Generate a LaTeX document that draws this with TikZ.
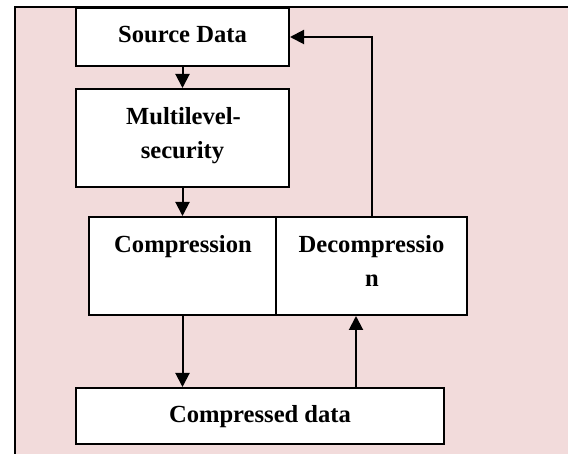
\documentclass[tikz,border=0pt]{standalone}
\usepackage{fontspec}
\setmainfont{Liberation Serif}
\usetikzlibrary{arrows.meta}
\definecolor{panelpink}{HTML}{F2DBDB}
\tikzset{
  block/.style={draw=black, fill=white, line width=2pt, inner sep=0pt},
  lbl/.style={anchor=base, inner sep=0pt, font=\fontsize{24.6}{34}\selectfont\bfseries},
  flow/.style={line width=2pt, -{Triangle[width=14pt,length=14pt]}}
}
\begin{document}
\begin{tikzpicture}[x=1pt,y=-1pt]
  \useasboundingbox (0,0) rectangle (568,454);
  % tinted panel with its top and left rule
  \fill[panelpink] (14,7) rectangle (568,454);
  \draw[line width=2pt] (568,7) -- (14.5,7) -- (14.5,454);

  % blocks
  \node[block, minimum width=213pt, minimum height=58pt] (src) at (182.5,37) {};
  \node[block, minimum width=213pt, minimum height=98pt] (multi) at (182.5,138) {};
  \node[block, minimum width=187pt, minimum height=98pt] (comp) at (182.5,266) {};
  \node[block, minimum width=191pt, minimum height=98pt] (decomp) at (371.5,266) {};
  \node[block, minimum width=368pt, minimum height=56pt] (cdata) at (260,416) {};

  % labels
  \node[lbl] (tsrc) at (182.5,43) {Source Data};
  \node[lbl] (tmulti1) at (183.5,125) {Multilevel-};
  \node[lbl] (tmulti2) at (182.5,159) {security};
  \node[lbl] (tcomp) at (183,253) {Compression};
  \node[lbl] (tdec1) at (371.5,253) {Decompressio};
  \node[lbl] (tdec2) at (372,287) {n};
  \node[lbl] (tcdata) at (260,423) {Compressed data};

  % connectors
  \coordinate (upfoot) at (356,388);
  \draw[flow] (src.south) -- (multi.north);
  \draw[flow] (multi.south) -- (comp.north);
  \draw[flow] (comp.south) -- (comp.south |- cdata.north);
  \draw[flow] (upfoot) -- (upfoot |- decomp.south);
  \draw[flow] (decomp.north) |- (src.east);
\end{tikzpicture}
\end{document}
